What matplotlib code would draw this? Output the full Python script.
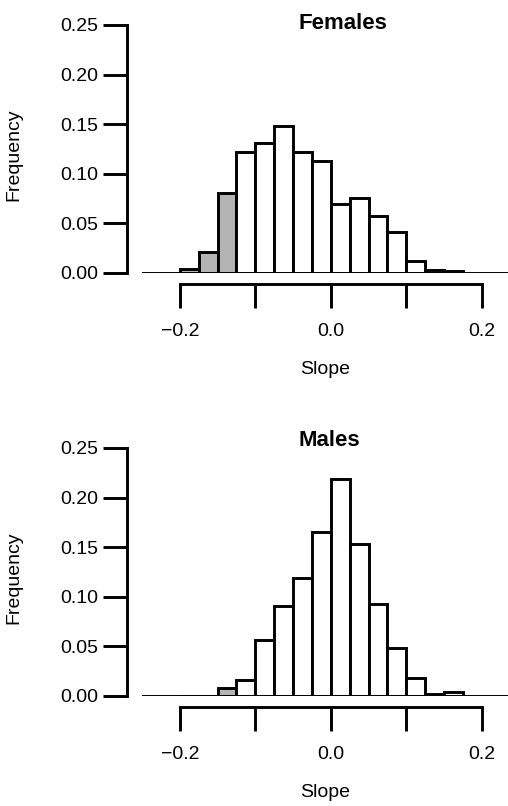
#!/usr/bin/env python3
"""Histograms of slope frequency for females and males."""
import matplotlib.pyplot as plt

# left edges of the 0.025-wide slope bins
bin_left = [-0.2, -0.175, -0.15, -0.125, -0.1, -0.075, -0.05, -0.025,
            0.0, 0.025, 0.05, 0.075, 0.1, 0.125, 0.15]
bin_width = 0.025

females_freq = [0.004, 0.021, 0.081, 0.122, 0.131, 0.148, 0.122, 0.113,
                0.070, 0.076, 0.057, 0.041, 0.012, 0.003, 0.002]
males_freq = [0.0, 0.0, 0.008, 0.016, 0.056, 0.091, 0.119, 0.165,
              0.219, 0.153, 0.093, 0.048, 0.018, 0.002, 0.004]

# bins below this slope are shaded grey
shade_below = -0.125

x_ticks = [-0.2, -0.1, 0.0, 0.1, 0.2]
x_ticklabels = ["\u22120.2", "", "0.0", "", "0.2"]
y_ticks = [0.0, 0.05, 0.10, 0.15, 0.20, 0.25]

plt.rcParams["font.family"] = ["Liberation Sans", "DejaVu Sans"]

W, H = 508, 806
fig = plt.figure(figsize=(W / 100, H / 100), dpi=100)

# (title, values, pixel row of the zero line, pixel row of the title)
panels = [("Females", females_freq, 273, 24),
          ("Males", males_freq, 696, 440)]

LW = 2.1
for title, freq, base_px, title_px in panels:
    ax = fig.add_axes([142 / W, 1 - base_px / H, 366 / W, 248 / H])
    colors = ["#b4b4b4" if b < shade_below - 1e-9 else "white" for b in bin_left]
    ax.bar(bin_left, freq, width=bin_width, align="edge", color=colors,
           edgecolor="black", linewidth=LW, zorder=2)
    ax.axhline(0, color="black", linewidth=LW, zorder=3)

    ax.set_xlim(-0.25, -0.25 + 366 / 755)
    ax.set_ylim(0, 0.25)

    for s in ("top", "right"):
        ax.spines[s].set_visible(False)
    ax.spines["left"].set_position(("outward", 10.8))
    ax.spines["bottom"].set_position(("outward", 8.0))
    ax.spines["left"].set_bounds(0, 0.25)
    ax.spines["bottom"].set_bounds(-0.2, 0.2)
    for s in ("left", "bottom"):
        ax.spines[s].set_linewidth(LW)

    ax.set_xticks(x_ticks)
    ax.set_xticklabels(x_ticklabels)
    ax.set_yticks(y_ticks)
    ax.set_yticklabels([f"{v:.2f}" for v in y_ticks])
    ax.tick_params(axis="both", length=17, width=LW, labelsize=14)
    ax.tick_params(axis="x", pad=11)
    ax.tick_params(axis="y", pad=4)

    ax.set_xlabel("Slope", fontsize=14, labelpad=15)
    ax.set_ylabel("Frequency", fontsize=14)
    ax.yaxis.set_label_coords((22 - 142) / 366, 118 / 248)

    ax.text((298 - 142) / 366, (base_px - title_px) / 248, title,
            transform=ax.transAxes, ha="left", va="center",
            fontsize=16, fontweight="bold")

fig.savefig("out.png", dpi=100)
